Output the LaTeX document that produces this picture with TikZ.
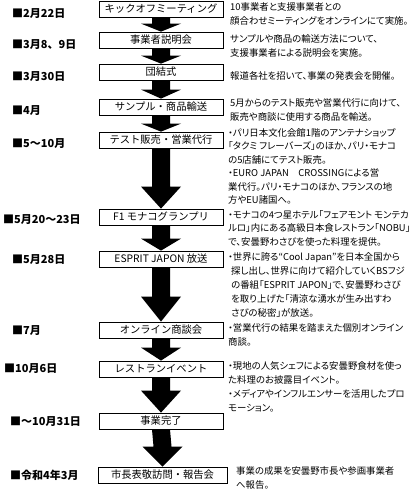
\documentclass[tikz,border=0pt]{standalone}
\usepackage{fontspec}
\setmainfont{Noto Sans CJK JP}
\newfontfamily\descfont{Noto Sans CJK JP}[RawFeature=+palt]
\usetikzlibrary{calc}
\tikzset{
  stepbox/.style={draw, line width=0.8pt, minimum width=124pt, minimum height=16pt, inner sep=0pt, font=\fontsize{10.3}{12}\selectfont},
  datelabel/.style={anchor=west, inner sep=0pt, font=\fontsize{11}{12}\selectfont\bfseries},
  desc/.style={anchor=north west, inner sep=0pt, align=left, font=\descfont\fontsize{9.4}{14}\selectfont},
}
\newcommand\blockarr[3]{\fill ($(#1.south)+(-9,0)$) -- ($(#1.south)+(9,0)$) -- ($(#2.north)+(9,-#3)$) -- ($(#2.north)+(20,-#3)$) -- (#2.north) -- ($(#2.north)+(-20,-#3)$) -- ($(#2.north)+(-9,-#3)$) -- cycle;}
\begin{document}
\begin{tikzpicture}[x=1pt,y=-1pt]
\useasboundingbox (0,0) rectangle (415,493);
% boxes
\node[stepbox] (b1) at (161,9) {キックオフミーティング};
\node[stepbox] (b2) at (161,40) {事業者説明会};
\node[stepbox] (b3) at (161,72) {団結式};
\node[stepbox] (b4) at (161,107) {サンプル・商品輸送};
\node[stepbox] (b5) at (161,140) {テスト販売・営業代行};
\node[stepbox] (b6) at (161,217) {F1 モナコグランプリ};
\node[stepbox] (b7) at (161,259) {ESPRIT JAPON 放送};
\node[stepbox] (b8) at (161,330) {オンライン商談会};
\node[stepbox] (b9) at (161,369) {レストランイベント};
\node[stepbox] (b10) at (161,421) {事業完了};
\node[stepbox, minimum width=129pt] (b11) at (162.5,475) {市長表敬訪問・報告会};
% arrows
\blockarr{b1}{b2}{8}
\blockarr{b2}{b3}{8}
\blockarr{b3}{b4}{9}
\blockarr{b4}{b5}{8}
\blockarr{b5}{b6}{22}
\blockarr{b6}{b7}{12}
\blockarr{b7}{b8}{25}
\blockarr{b8}{b9}{13}
\blockarr{b9}{b10}{22}
\blockarr{b10}{b11}{20}
% date labels
\node[datelabel] (d1) at (12,14) {■2月22日};
\node[datelabel] (d2) at (12,45) {■3月8、9日};
\node[datelabel] (d3) at (12,77) {■3月30日};
\node[datelabel] (d4) at (12,111) {■4月};
\node[datelabel] (d5) at (12,144) {■5〜10月};
\node[datelabel] (d6) at (3,220) {■5月20〜23日};
\node[datelabel] (d7) at (12,260) {■5月28日};
\node[datelabel] (d8) at (12,331) {■7月};
\node[datelabel] (d9) at (4,369) {■10月6日};
\node[datelabel] (d10) at (10,422) {■〜10月31日};
\node[datelabel] (d11) at (10,475) {■令和4年3月};
% descriptions
\node[desc] (t1) at (230,2) {10事業者と支援事業者との\\顔合わせミーティングをオンラインにて実施。};
\node[desc] (t2) at (230,34) {サンプルや商品の輸送方法について、\\支援事業者による説明会を実施。};
\node[desc] (t3) at (230,71) {報道各社を招いて、事業の発表会を開催。};
\node[desc] (t4) at (230,98) {5月からのテスト販売や営業代行に向けて、\\販売や商談に使用する商品を輸送。};
\node[desc, font=\descfont\fontsize{9.4}{13.5}\selectfont] (t5) at (228,128) {・パリ日本文化会館1階のアンテナショップ\\「タクミ フレーバーズ」のほか、パリ・モナコ\\の5店舗にてテスト販売。\\・EURO JAPAN　CROSSINGによる営\\業代行。パリ・モナコのほか、フランスの地\\方やEU諸国へ。};
\node[desc, font=\descfont\fontsize{9.4}{13.5}\selectfont] (t6) at (228,210) {・モナコの4つ星ホテル「フェアモント モンテカ\\ルロ」内にある高級日本食レストラン「NOBU」\\で、安曇野わさびを使った料理を提供。};
\node[desc] (t7) at (228,252) {・世界に誇る“Cool Japan”を日本全国から\\\hspace*{3pt}探し出し、世界に向けて紹介していくBSフジ\\\hspace*{3pt}の番組「ESPRIT JAPON」で、安曇野わさび\\\hspace*{3pt}を取り上げた「清涼な湧水が生み出すわ\\\hspace*{3pt}さびの秘密」が放送。};
\node[desc] (t8) at (228,323) {・営業代行の結果を踏まえた個別オンライン\\商談。};
\node[desc] (t9) at (228,361) {・現地の人気シェフによる安曇野食材を使っ\\た料理のお披露目イベント。\\・メディアやインフルエンサーを活用したプロ\\モーション。};
\node[desc] (t11) at (236,466) {事業の成果を安曇野市長や参画事業者\\へ報告。};
\end{tikzpicture}
\end{document}
